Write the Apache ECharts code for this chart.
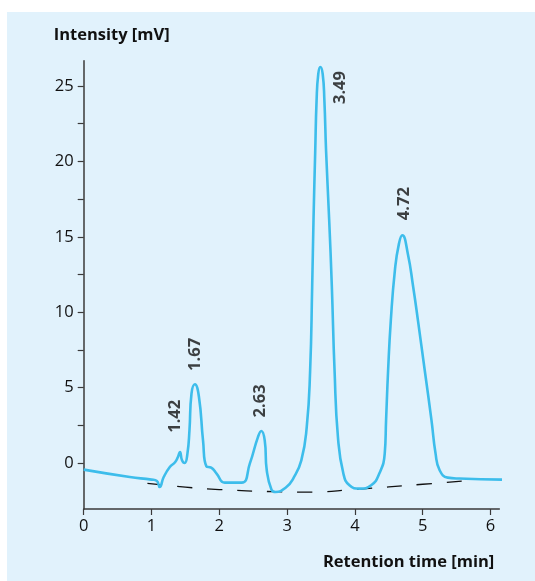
<!DOCTYPE html>
<html>
<head>
    <meta charset="utf-8">
    <title>Chromatogram</title>
    <script src="https://cdn.jsdelivr.net/npm/echarts@6/dist/echarts.min.js"></script>
    <style>
        html, body { margin: 0; padding: 0; background: #fff; }
    </style>
</head>
<body>
    <div id="main" style="width:535px;height:581px;"></div>
    <script type="text/javascript">
        // signal trace
        var rtTime = [0, 0.68, 1.0, 1.08, 1.12, 1.18, 1.27, 1.35, 1.39, 1.42, 1.45, 1.49, 1.53,
            1.56, 1.59, 1.64, 1.70, 1.76, 1.81, 1.88, 1.96, 2.08, 2.33, 2.45, 2.57, 2.62, 2.67,
            2.70, 2.77, 2.83, 2.99, 3.09, 3.21, 3.29, 3.34, 3.37, 3.39, 3.415, 3.435, 3.46, 3.49,
            3.525, 3.55, 3.575, 3.62, 3.66, 3.70, 3.75, 3.83, 3.92, 4.07, 4.24, 4.36, 4.44, 4.46,
            4.49, 4.53, 4.59, 4.65, 4.70, 4.78, 4.86, 4.93, 5.03, 5.13, 5.19, 5.25, 5.37, 5.54, 6.19];
        var intensity = [-0.44, -0.93, -1.1, -1.19, -1.59, -0.93, -0.27, 0.07, 0.4, 0.73, 0.18, 0.0, 0.62,
            2.17, 4.6, 5.22, 4.38, 1.5, -0.22, -0.3, -0.7, -1.3, -1.3, -0.04, 1.72, 2.12, 1.5,
            -0.48, -1.77, -1.92, -1.59, -1.03, 0.18, 2.39, 6.15, 11.7, 16.2, 20.7, 24.05, 25.8, 26.26,
            25.8, 24.05, 20.7, 16.2, 11.7, 6.15, 1.72, -0.7, -1.48, -1.7, -1.48, -0.7, 0.62, 2.83,
            6.15, 9.46, 12.78, 14.55, 15.1, 13.9, 11.67, 9.46, 6.15, 2.83, 0.62, -0.48, -0.97, -1.03, -1.1];

        // dashed baseline
        var baseTime = [0.94, 1.5, 2.0, 2.8, 3.3, 4.0, 5.0, 5.59];
        var baseLevel = [-1.35, -1.6, -1.76, -1.9, -1.93, -1.75, -1.41, -1.2];

        // peak labels (placed where the text sits)
        var peakText = ["1.42", "1.67", "2.63", "3.49", "4.72"];
        var peakX = [1.355, 1.64, 2.60, 3.79, 4.73];
        var peakY = [3.1, 7.2, 4.12, 24.9, 17.2];

        var xTicks = [0, 1, 2, 3, 4, 5, 6];
        var yTicks = [0, 2.5, 5, 7.5, 10, 12.5, 15, 17.5, 20, 22.5, 25];
        var yLabels = [0, 5, 10, 15, 20, 25];

        var traceData = rtTime.map(function (t, i) { return [t, intensity[i]]; });
        var baseData = baseTime.map(function (t, i) { return [t, baseLevel[i]]; });
        var labelData = peakText.map(function (s, i) { return { value: [peakX[i], peakY[i]], name: s }; });

        var fontName = "Open Sans";
        var axisColor = "#3a3a3a";

        var myChart = echarts.init(document.getElementById("main"));
        var option = {
            animation: false,
            textStyle: { fontFamily: fontName },
            graphic: [{
                type: "rect",
                z: -10,
                shape: { x: 7, y: 12, width: 528, height: 569 },
                style: { fill: "#e1f2fc" },
                silent: true
            }],
            grid: {
                left: 83.7,
                right: 35.7,
                top: 60.7,
                bottom: 72,
                containLabel: false,
                outerBoundsMode: "none"
            },
            xAxis: {
                type: "value",
                min: 0,
                max: 6.13,
                interval: 1,
                name: "Retention time [min]",
                nameLocation: "end",
                nameGap: -5,
                nameTextStyle: {
                    fontFamily: fontName,
                    fontWeight: "bold",
                    fontSize: 16.5,
                    color: "#111",
                    align: "right",
                    verticalAlign: "top",
                    padding: [45, 0, 0, 0]
                },
                axisLine: { onZero: false, lineStyle: { color: axisColor, width: 1.5 } },
                axisTick: { length: 6, lineStyle: { color: axisColor, width: 1.2 }, customValues: xTicks },
                axisLabel: { margin: 9, fontSize: 16.5, color: "#111", customValues: xTicks },
                splitLine: { show: false }
            },
            yAxis: {
                type: "value",
                min: -3.05,
                max: 26.68,
                name: "Intensity [mV]",
                nameLocation: "end",
                nameGap: 25,
                nameTextStyle: {
                    fontFamily: fontName,
                    fontWeight: "bold",
                    fontSize: 16.5,
                    color: "#111",
                    align: "left",
                    verticalAlign: "middle",
                    padding: [0, 0, 0, -30]
                },
                axisLine: { show: true, onZero: false, lineStyle: { color: axisColor, width: 1.5 } },
                axisTick: { show: true, length: 6, lineStyle: { color: axisColor, width: 1.2 }, customValues: yTicks },
                axisLabel: { margin: 10, fontSize: 16.5, color: "#111", customValues: yLabels },
                splitLine: { show: false }
            },
            series: [{
                name: "baseline",
                type: "line",
                data: baseData,
                smooth: true,
                symbol: "none",
                lineStyle: { color: "#111", width: 1.3, type: [15, 15] },
                z: 2
            }, {
                name: "signal",
                type: "line",
                data: traceData,
                smooth: 0.5,
                symbol: "none",
                clip: false,
                lineStyle: { color: "#3dbdeb", width: 2.6 },
                z: 3
            }, {
                name: "peaks",
                type: "scatter",
                data: labelData,
                symbolSize: 1,
                itemStyle: { color: "transparent" },
                label: {
                    show: true,
                    position: "inside",
                    rotate: 90,
                    formatter: "{b}",
                    fontFamily: fontName,
                    fontWeight: "bold",
                    fontSize: 16.5,
                    color: "#111"
                },
                z: 4
            }]
        };
        myChart.setOption(option);
    </script>
</body>
</html>
